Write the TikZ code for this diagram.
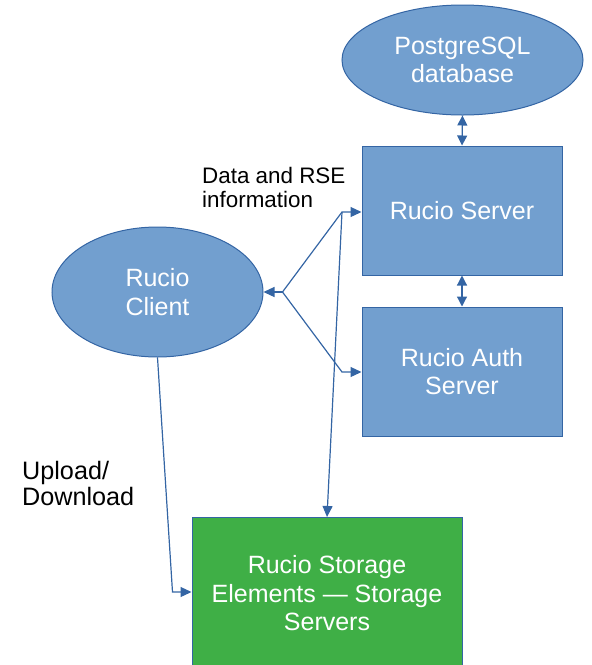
\documentclass[tikz,border=0pt]{standalone}
\usepackage{fontspec}
\setmainfont{Liberation Sans}
\usetikzlibrary{arrows.meta,shapes.geometric}
\definecolor{fillblue}{HTML}{729FCF}
\definecolor{lineblue}{HTML}{3465A4}
\definecolor{fillgreen}{HTML}{3FAF46}
\tikzset{
  shapebase/.style={fill=fillblue, draw=lineblue, line width=1pt, text=white, align=center,
    font=\fontsize{25}{28.5}\selectfont, inner sep=0pt},
  ellnode/.style={shapebase, ellipse},
  boxnode/.style={shapebase, rectangle},
  conn/.style={draw=lineblue, line width=1.2pt, -{Triangle[length=11pt,width=10pt]}},
  dconn/.style={draw=lineblue, line width=1.2pt, {Triangle[length=10pt,width=10pt]}-{Triangle[length=10pt,width=10pt]}},
  lbl/.style={anchor=north west, inner sep=0pt, align=left, text=black}
}
\begin{document}
\begin{tikzpicture}[x=1pt,y=-1pt]
\useasboundingbox (0,0) rectangle (592,665);
% nodes
\node[ellnode, minimum width=241pt, minimum height=110pt] (pg) at (462.5,60) {PostgreSQL\\database};
\node[boxnode, minimum width=200pt, minimum height=129pt] (srv) at (462,210.5) {Rucio Server};
\node[boxnode, minimum width=200pt, minimum height=129pt] (auth) at (462,371.5) {Rucio Auth\\Server};
\node[ellnode, minimum width=211pt, minimum height=130pt] (cli) at (157.5,292) {Rucio\\Client};
\node[boxnode, fill=fillgreen, minimum width=270pt, minimum height=152pt, anchor=north] (st) at (327,517) {Rucio Storage\\Elements — Storage\\Servers};
% labels
\node[lbl, font=\fontsize{22.4}{24}\selectfont] (l1) at (202,167.5) {Data and RSE\\information};
\node[lbl, font=\fontsize{25.2}{26.5}\selectfont] (l2) at (22,461) {Upload/\\Download};
% connector points
\coordinate (J) at (282.5,292);
\coordinate (E1) at (342,212);
\coordinate (E2) at (342,372);
\coordinate (E3) at (172.5,592);
% connectors
\draw[dconn] (pg.south) -- (srv.north);
\draw[dconn] (srv.south) -- (auth.north);
\draw[conn] (J) -- (cli.east);
\draw[conn] (J) -- (E1) -- (E1 -| srv.west);
\draw[conn] (J) -- (E2) -- (E2 -| auth.west);
\draw[conn] (E1) -- (st.north);
\draw[conn] (cli.south) -- (E3) -- (E3 -| st.west);
\end{tikzpicture}
\end{document}
